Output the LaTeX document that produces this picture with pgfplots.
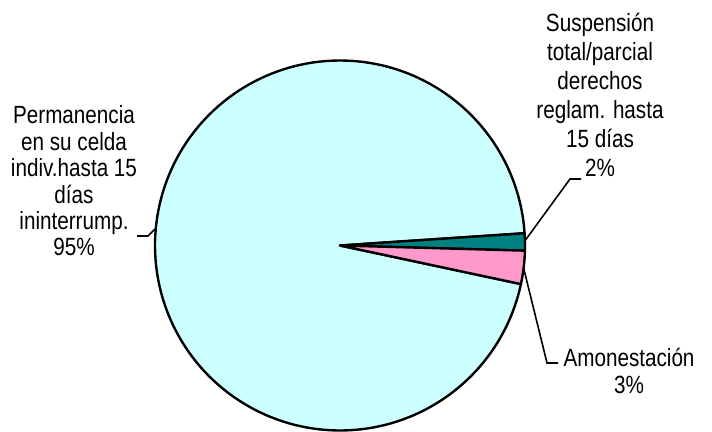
\documentclass[border=0pt]{standalone}
\usepackage{pgfplots}
\pgfplotsset{compat=1.18}
\usepackage{fontspec}
\setmainfont{Liberation Sans}[FakeStretch=0.83]
\definecolor{slcyan}{HTML}{CCFFFF}
\definecolor{slteal}{HTML}{008080}
\definecolor{slpink}{HTML}{FF99CC}
\begin{document}
\begin{tikzpicture}
% shares in percent (clockwise from the top edge of the teal slice)
\def\pTeal{1.5}\def\pPink{2.9}\def\pCyan{95.6}
\pgfmathsetmacro\aA{3.8}
\pgfmathsetmacro\aB{\aA-\pTeal*3.6}
\pgfmathsetmacro\aC{\aB-\pPink*3.6}
\pgfmathsetmacro\aD{\aC-\pCyan*3.6}
\def\cx{340}\def\cy{186.5}\def\R{185}
\begin{axis}[scale only axis, width=712bp, height=432bp,
  xmin=0, xmax=712, ymin=0, ymax=432, hide axis, clip=false]
\addplot[fill=slcyan, draw=black, line width=2.4pt, line join=round, domain=\aD:\aC, samples=180, variable=\t]
  ({\cx+\R*cos(\t)},{\cy+\R*sin(\t)}) -- (axis cs:\cx,\cy) -- cycle;
\addplot[fill=slteal, draw=black, line width=2.4pt, line join=round, domain=\aB:\aA, samples=10, variable=\t]
  ({\cx+\R*cos(\t)},{\cy+\R*sin(\t)}) -- (axis cs:\cx,\cy) -- cycle;
\addplot[fill=slpink, draw=black, line width=2.4pt, line join=round, domain=\aC:\aB, samples=10, variable=\t]
  ({\cx+\R*cos(\t)},{\cy+\R*sin(\t)}) -- (axis cs:\cx,\cy) -- cycle;
% leader lines
\addplot[black, line width=1.6pt] coordinates {(525.5,192) (570,253) (581,253)};
\addplot[black, line width=1.6pt] coordinates {(523.6,164) (547,69) (558,69)};
\addplot[black, line width=1.6pt] coordinates {(137,196) (148,196) (155,203)};
% labels
\node[font={\fontsize{25}{26.5}\selectfont\lineskiplimit=-\maxdimen}, align=center, inner sep=0pt] at (axis cs:74,251) {Permanencia\\en su celda\\indiv.hasta 15\\días\\ininterrump.\\95\%};
\node[font={\fontsize{25}{29}\selectfont\lineskiplimit=-\maxdimen}, align=center, inner sep=0pt] at (axis cs:600,337) {Suspensión\\total/parcial\\derechos\\reglam. hasta\\15 días\\2\%};
\node[font={\fontsize{25}{28}\selectfont\lineskiplimit=-\maxdimen}, align=center, inner sep=0pt] at (axis cs:629,61) {Amonestación\\3\%};
\end{axis}
\pgfresetboundingbox
\useasboundingbox (current axis.south west) rectangle (current axis.north east);
\end{tikzpicture}
\end{document}
